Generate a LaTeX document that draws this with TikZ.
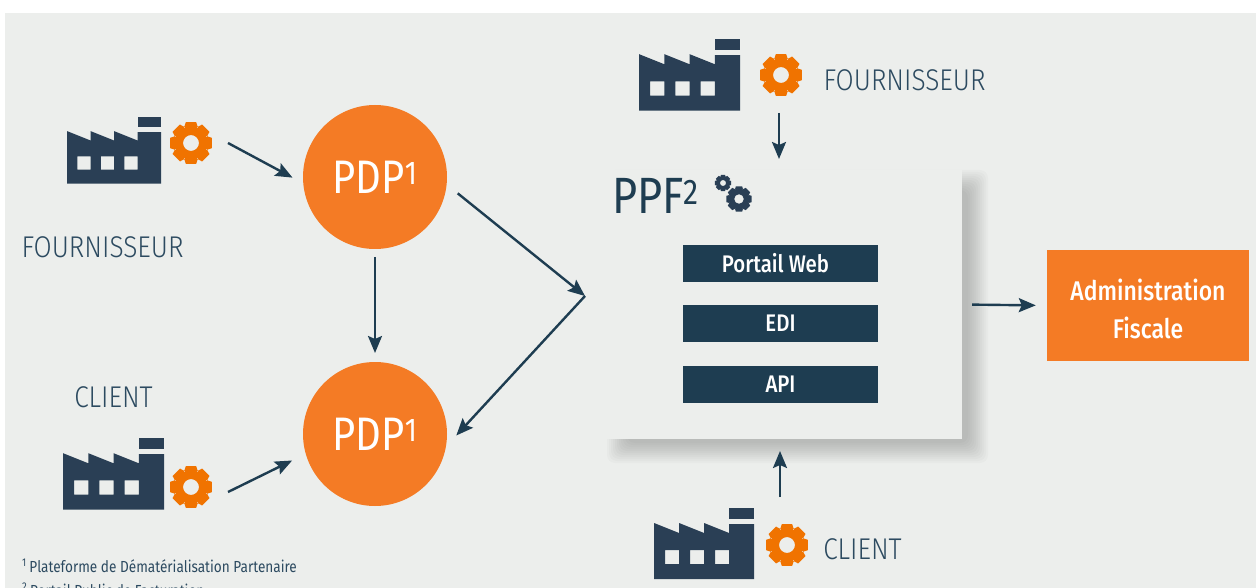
\documentclass[tikz,border=0pt]{standalone}
\usepackage{fontspec}
\setmainfont{Fira Sans}
\newfontfamily\lightfont[FakeStretch=0.875]{Fira Sans Light}
\newfontfamily\plainfont[FakeStretch=0.85]{Fira Sans}
\newfontfamily\mediumfont[FakeStretch=0.85]{Fira Sans Medium}
\usetikzlibrary{arrows.meta,positioning,calc}
\definecolor{panelgray}{HTML}{ECEEEC}
\definecolor{navy}{HTML}{1E3D51}
\definecolor{factoryblue}{HTML}{2A3F55}
\definecolor{textblue}{HTML}{2C4A60}
\definecolor{pdporange}{HTML}{F47B25}
\definecolor{gearorange}{HTML}{F07300}

\tikzset{
  Flow/.style={navy,line width=2.4pt,-{Stealth[length=17pt,width=14pt,inset=3pt]}},
  Pdp/.style={circle,fill=pdporange,text=white,minimum size=144pt,inner sep=0pt,font=\plainfont\fontsize{47}{50}\selectfont},
  Bar/.style={fill=navy,text=white,minimum width=195pt,minimum height=37pt,inner sep=0pt,font=\mediumfont\fontsize{24}{26}\selectfont},
  Actor/.style={text=textblue,inner sep=0pt,font=\lightfont\fontsize{30}{32}\selectfont},
  Note/.style={text=textblue,inner sep=0pt,anchor=west,font=\plainfont\fontsize{16}{18}\selectfont},
  factory/.pic={
    \fill[factoryblue] (75,0) rectangle (100,11);
    \fill[factoryblue,even odd rule] (0,15) -- (25,25) -- (25,15) -- (50,25) -- (50,15) -- (75,25) -- (75,16) -- (100,16)
      -- (100,71) -- (0,71) -- cycle
      (11,42) rectangle (25,56) (36,42) rectangle (50,56) (61,42) rectangle (75,56);
  },
  gear/.pic={
    \fill[even odd rule,pic actions] (-26:.76) \foreach \a in {0,45,...,315}{
      -- ({\a-26}:.76) -- ({\a-14}:1) -- ({\a+14}:1) -- ({\a+26}:.76) } -- cycle
      (0,0) circle (.37);
  }
}

\begin{document}
\begin{tikzpicture}[x=1pt,y=-1pt]
    \useasboundingbox (0,0) rectangle (1256,588);
    \clip (0,0) rectangle (1256,588);
    \fill[white] (0,0) rectangle (1256,588);
    \fill[panelgray] (5,13) rectangle (1256,588);

    % shadow of the PPF box
    \foreach \k in {0,...,10}
      \fill[black,opacity=.02,rounded corners=8pt] (607+\k*2,170+\k*2) rectangle (988-\k*2,463-\k*2);

    \node[fill=panelgray,minimum width=357pt,minimum height=269pt,inner sep=0pt] (ppf) at (783.5,304.5) {};
    \node[Pdp] (pdpa) at (375,177) {PDP\textsuperscript{1}};
    \node[Pdp] (pdpb) at (375,434) {PDP\textsuperscript{1}};
    \node[Bar] (web) at (780.5,263.5) {Portail Web\hspace*{10pt}};
    \node[Bar] (edi) at (780.5,323.5) {EDI};
    \node[Bar] (api) at (780.5,384.5) {API};
    \node[fill=pdporange,minimum width=202pt,minimum height=111pt,inner sep=0pt] (admin) at (1148,305.5) {};
    \node[text=white,inner sep=0pt,align=center,font=\mediumfont\fontsize{27}{38}\selectfont] (adminlabel)
      at ($(admin)+(0,3)$) {Administration\\Fiscale};
    \node[text=navy,inner sep=0pt,anchor=base west,font=\plainfont\fontsize{51}{52}\selectfont] (ppftitle) at (612,214) {PPF\textsuperscript{2}};

    \pic[scale=.94] at (67,117) {factory};
    \pic[scale=1.01] at (63,438) {factory};
    \pic[scale=1.01] at (639,39) {factory};
    \pic[scale=1.0] at (654,508) {factory};

    \pic[gearorange,scale=21.5] at (191,143) {gear};
    \pic[gearorange,scale=21.5] at (191,487) {gear};
    \pic[gearorange,scale=21.5] at (781,75) {gear};
    \pic[gearorange,scale=21.5] at (787,545) {gear};
    \pic[factoryblue,scale=8.3] at (723,183) {gear};
    \pic[factoryblue,scale=13] at (739,199) {gear};

    \node[Actor] (fournb) at (102.5,247) {FOURNISSEUR};
    \node[Actor] (clientb) at (113.5,397) {CLIENT};
    \node[Actor] (fourna) at (904.5,80) {FOURNISSEUR};
    \node[Actor] (clienta) at (862.5,549) {CLIENT};

    \node[Note] (notea) at (22,566) {\textsuperscript{1}\,Plateforme de Dématérialisation Partenaire};
    \node[Note] (noteb) at (22,590) {\textsuperscript{2}\,Portail Public de Facturation};

    \coordinate (srca) at (228,143);
    \coordinate (srcb) at (228,492);
    \coordinate (srcc) at (779,113);
    \coordinate (dstc) at (779,159);
    \coordinate (srcd) at (780,497);
    \coordinate (dstd) at (780,451);
    \coordinate (meet) at (585,296);

    \draw[Flow,shorten >=12pt] (srca) -- (pdpa.-175);
    \draw[Flow,shorten >=15pt] (srcb) -- (pdpb.-164);
    \draw[Flow,shorten <=8pt,shorten >=9pt] (pdpa) ++(0,72) -- (375,362);
    \draw[Flow,shorten <=14pt] (pdpa.-6) -- (meet);
    \draw[Flow,shorten >=15pt] (meet) -- (pdpb.-10);
    \draw[Flow] (srcc) -- (dstc);
    \draw[Flow] (srcd) -- (dstd);
    \draw[Flow,shorten <=10pt,shorten >=11pt] (ppf.east) -- (admin.west);
\end{tikzpicture}
\end{document}
